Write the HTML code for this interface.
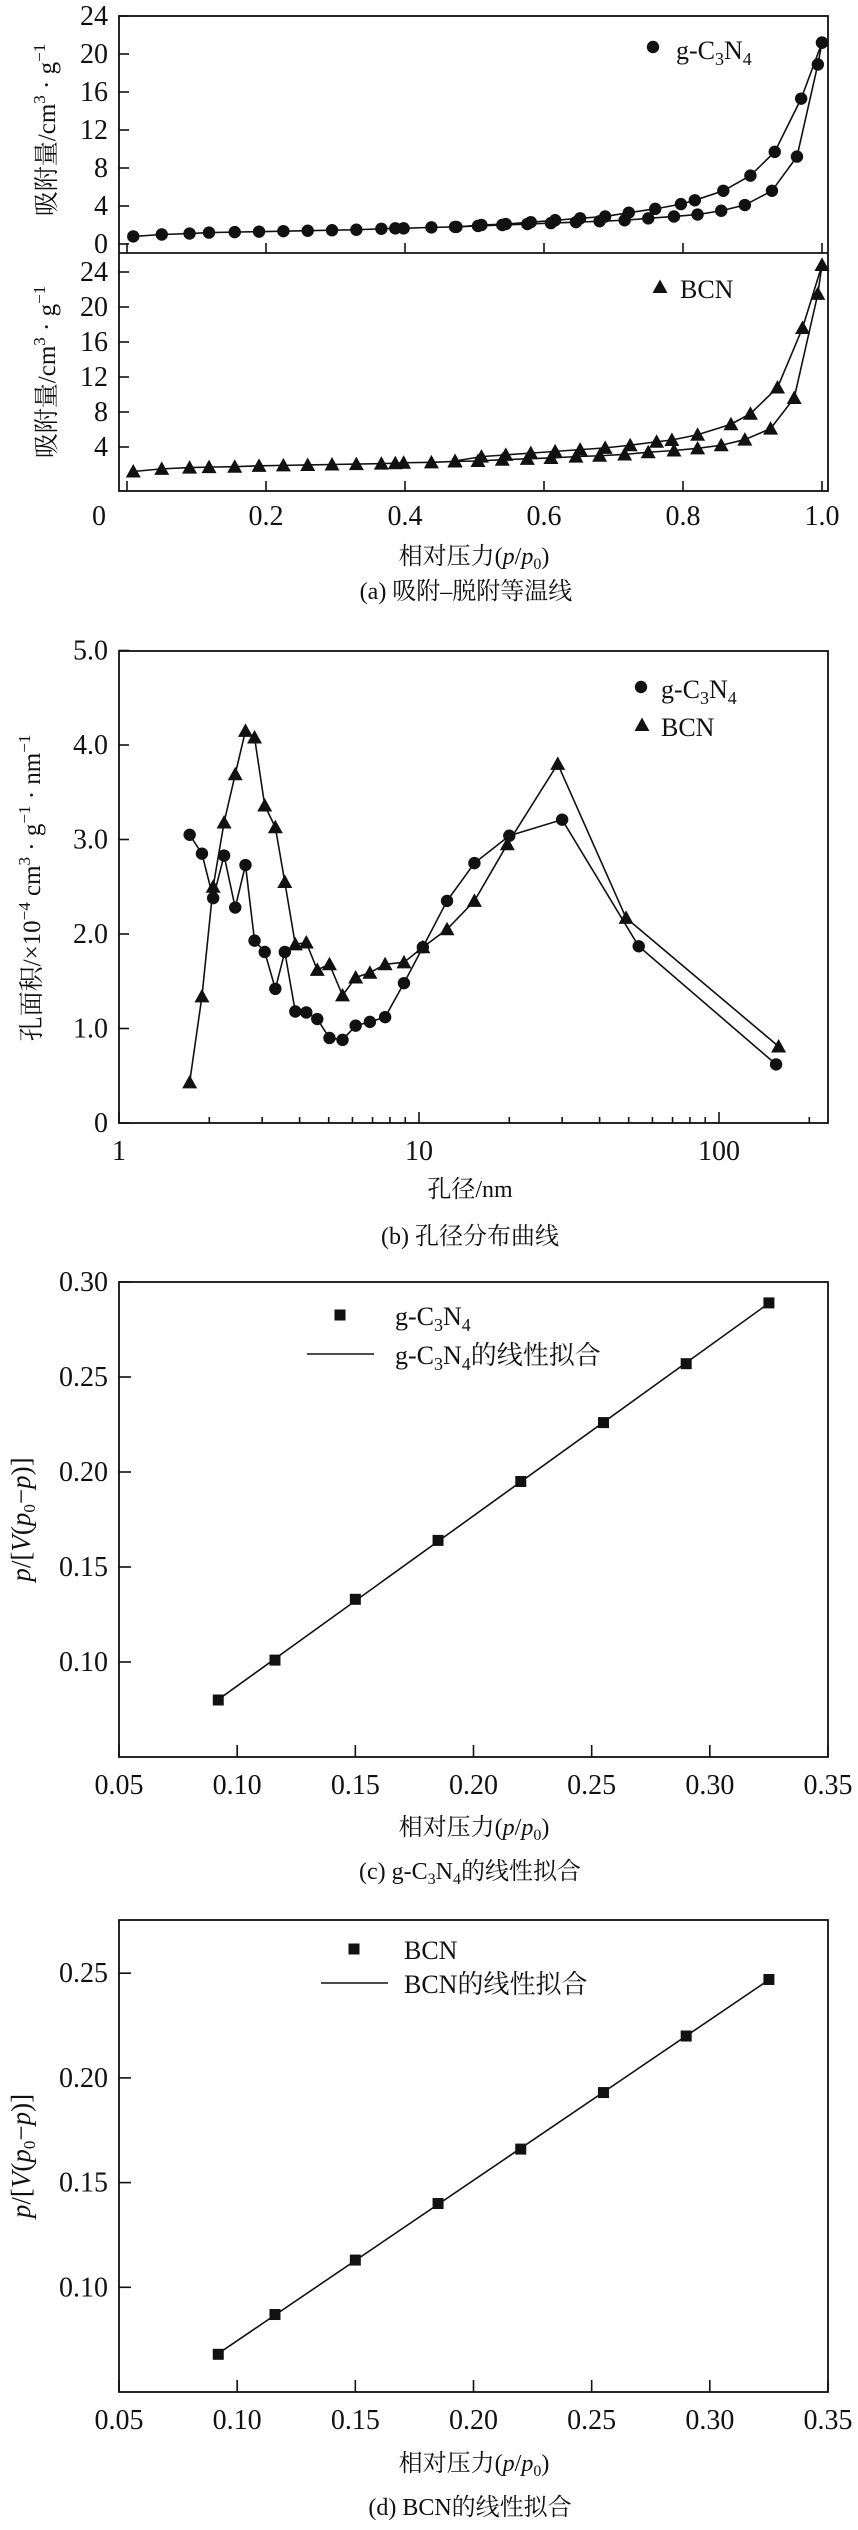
<!DOCTYPE html>
<html><head><meta charset="utf-8">
<style>
html,body{margin:0;padding:0;background:#fff;}
svg{display:block;}
text{font-family:"Liberation Serif","Noto Serif CJK SC",serif;fill:#111;}
.cjk{font-family:"Liberation Serif","Noto Serif CJK SC",serif;}
</style></head>
<body>
<svg id="fig" width="858" height="2530" viewBox="0 0 858 2530" xmlns="http://www.w3.org/2000/svg"></svg>
<script>
// ---------- Data: (a) isotherms ----------
const gAdsX=[0.009,0.05,0.09,0.118,0.155,0.19,0.225,0.26,0.295,0.33,0.366,0.386,0.398,0.438,0.472,0.505,0.54,0.576,0.61,0.646,0.68,0.716,0.75,0.787,0.821,0.855,0.889,0.928,0.964,0.994,1.0];
const gAdsY=[0.8,1.0,1.1,1.2,1.25,1.3,1.35,1.4,1.45,1.5,1.6,1.65,1.65,1.75,1.8,1.9,2.0,2.1,2.2,2.3,2.4,2.5,2.7,2.9,3.1,3.5,4.1,5.6,9.2,18.9,21.2];
const gDesX=[1.0,0.97,0.932,0.897,0.858,0.817,0.797,0.76,0.722,0.688,0.652,0.616,0.581,0.545,0.51,0.474];
const gDesY=[21.2,15.3,9.7,7.2,5.6,4.6,4.2,3.7,3.3,2.9,2.7,2.5,2.3,2.1,2.0,1.8];
const bAdsX=[0.009,0.05,0.09,0.118,0.155,0.19,0.225,0.26,0.295,0.33,0.366,0.386,0.398,0.438,0.472,0.505,0.54,0.576,0.61,0.646,0.68,0.716,0.75,0.787,0.821,0.855,0.889,0.926,0.96,0.994,1.0];
const bAdsY=[1.2,1.5,1.65,1.7,1.75,1.85,1.9,1.95,2.0,2.05,2.1,2.15,2.2,2.25,2.35,2.4,2.55,2.65,2.75,2.9,3.0,3.15,3.4,3.6,3.85,4.2,4.85,6.1,9.6,21.5,24.8];
const bDesX=[1.0,0.972,0.936,0.897,0.869,0.821,0.784,0.762,0.724,0.688,0.652,0.616,0.581,0.545,0.51,0.472];
const bDesY=[24.8,17.6,10.8,7.8,6.6,5.4,4.8,4.6,4.2,3.9,3.7,3.5,3.3,3.1,2.9,2.4];
const aXTicks=[0,0.2,0.4,0.6,0.8,1.0];
const aXLabels=["0","0.2","0.4","0.6","0.8","1.0"];
const aTopYTicks=[0,4,8,12,16,20,24];
const aBotYTicks=[4,8,12,16,20,24];
// ---------- Data: (b) pore size ----------
const pgX=[1.72,1.89,2.06,2.24,2.44,2.64,2.83,3.06,3.32,3.57,3.87,4.21,4.58,5.03,5.56,6.15,6.86,7.71,8.91,10.3,12.4,15.3,20.0,30.0,54.0,155];
const pgY=[3.05,2.85,2.38,2.83,2.28,2.73,1.93,1.81,1.42,1.81,1.18,1.17,1.10,0.90,0.88,1.03,1.07,1.12,1.48,1.86,2.35,2.75,3.04,3.21,1.87,0.62];
const pbX=[1.72,1.89,2.06,2.24,2.44,2.64,2.83,3.06,3.32,3.57,3.87,4.21,4.58,5.03,5.56,6.15,6.86,7.71,8.91,10.3,12.4,15.3,19.7,29,49,158];
const pbY=[0.43,1.34,2.5,3.18,3.69,4.15,4.08,3.36,3.13,2.55,1.89,1.91,1.62,1.68,1.35,1.54,1.59,1.68,1.70,1.86,2.05,2.35,2.95,3.8,2.17,0.81];
const bYTicks=[0,1,2,3,4,5];
const bYLabels=["0","1.0","2.0","3.0","4.0","5.0"];
const bXTicks=[1,10,100];
// ---------- Data: (c),(d) BET fits ----------
const betX=[0.092,0.116,0.150,0.185,0.220,0.255,0.290,0.325];
const cY=[0.080,0.101,0.133,0.164,0.195,0.226,0.257,0.289];
const dY=[0.068,0.087,0.113,0.140,0.166,0.193,0.220,0.247];
const cdXTicks=[0.05,0.10,0.15,0.20,0.25,0.30,0.35];
const cYTicks=[0.10,0.15,0.20,0.25,0.30];
const dYTicks=[0.10,0.15,0.20,0.25];

const NS="http://www.w3.org/2000/svg";
const svg=document.getElementById('fig');
function mk(tag,attrs,parent){const e=document.createElementNS(NS,tag);for(const k in attrs)e.setAttribute(k,attrs[k]);(parent||svg).appendChild(e);return e;}
function grp(name){const g=mk('g',{});


return g;}
function line(g,x1,y1,x2,y2,w){return mk('line',{x1,y1,x2,y2,stroke:'#111','stroke-width':w||1.6},g);}
function txt(g,x,y,s,size,anchor,extra){const t=mk('text',Object.assign({x,y,'font-size':size,'text-anchor':anchor||'middle'},extra||{}),g);t.innerHTML=s;return t;}
function circle(g,x,y){const c=mk('circle',{cx:x,cy:y,r:6.2,fill:'#111'},g);

return c;}
function tri(g,x,y){const s=7.5;const p=mk('polygon',{points:`${x},${y-s} ${x-s},${y+s*0.8} ${x+s},${y+s*0.8}`,fill:'#111'},g);

return p;}
function sq(g,x,y){const s=5.5;const r=mk('rect',{x:x-s,y:y-s,width:2*s,height:2*s,fill:'#111'},g);

return r;}
function poly(g,xs,ys,fx,fy,name){const pts=xs.map((v,i)=>fx(v)+','+fy(ys[i])).join(' ');const p=mk('polyline',{points:pts,fill:'none',stroke:'#111','stroke-width':1.6},g);

return p;}

// ===== Chart (a) =====
(function(){
const g=grp('isotherm-chart');
const L=119,R=828,T=16,M=253,B=491;
const fx=v=>127+v*695;
const fyT=v=>244-v*9.5;
const fyB=v=>482-v*8.75;
mk('rect',{x:L,y:T,width:R-L,height:B-T,fill:'none',stroke:'#111','stroke-width':1.8},g);
line(g,L,M,R,M,1.8);
aXTicks.forEach((v,i)=>{line(g,fx(v),M,fx(v),M-10);line(g,fx(v),B,fx(v),B-10);
 txt(g,i==0?99:fx(v),525,aXLabels[i],28);});
aTopYTicks.forEach(v=>{line(g,L,fyT(v),L+10,fyT(v));txt(g,108,fyT(v)+9,String(v),28,'end');});
aBotYTicks.forEach(v=>{line(g,L,fyB(v),L+10,fyB(v));txt(g,108,fyB(v)+9,String(v),28,'end');});
poly(g,gAdsX,gAdsY,fx,fyT,'g-c3n4-adsorption-line');poly(g,gDesX,gDesY,fx,fyT,'g-c3n4-desorption-line');
gAdsX.forEach((v,i)=>circle(g,fx(v),fyT(gAdsY[i])));gDesX.forEach((v,i)=>circle(g,fx(v),fyT(gDesY[i])));
poly(g,bAdsX,bAdsY,fx,fyB,'bcn-adsorption-line');poly(g,bDesX,bDesY,fx,fyB,'bcn-desorption-line');
bAdsX.forEach((v,i)=>tri(g,fx(v),fyB(bAdsY[i])));bDesX.forEach((v,i)=>tri(g,fx(v),fyB(bDesY[i])));
circle(g,653,47);txt(g,676,59,'g-C<tspan font-size="18" dy="6">3</tspan><tspan dy="-6">N</tspan><tspan font-size="18" dy="6">4</tspan>',26,'start');
tri(g,660,287);txt(g,680,298,'BCN',26,'start');
txt(g,55,130,'吸附量/cm<tspan font-size="17" dy="-10">3</tspan><tspan dy="10"> · g</tspan><tspan font-size="17" dy="-10">−1</tspan>',25,'middle',{transform:'rotate(-90 55 130)'});
txt(g,55,372,'吸附量/cm<tspan font-size="17" dy="-10">3</tspan><tspan dy="10"> · g</tspan><tspan font-size="17" dy="-10">−1</tspan>',25,'middle',{transform:'rotate(-90 55 372)'});
txt(g,474,564,'相对压力(<tspan font-style="italic">p</tspan>/<tspan font-style="italic">p</tspan><tspan font-size="16" dy="5">0</tspan><tspan dy="-5">)</tspan>',24);
txt(g,466,599,'(a) 吸附–脱附等温线',24);
})();

// ===== Chart (b) =====
(function(){
const g=grp('pore-distribution-chart');
const L=119,R=828,T=651,B=1123;
const fx=v=>119+Math.log10(v)*300;
const fy=v=>1123-v*94.5;
mk('rect',{x:L,y:T,width:R-L,height:B-T,fill:'none',stroke:'#111','stroke-width':1.8},g);
for(let d=1;d<=100;d*=10){for(let k=1;k<10;k++){const v=d*k;const x=fx(v);if(x>R-1)break;line(g,x,B,x,B-(k==1?11:6));}}
bXTicks.forEach(v=>txt(g,fx(v),1160,String(v),28));
bYTicks.forEach((v,i)=>{line(g,L,fy(v),L+10,fy(v));txt(g,108,fy(v)+9,bYLabels[i],28,'end');});
poly(g,pgX,pgY,fx,fy,'g-c3n4-pore-line');poly(g,pbX,pbY,fx,fy,'bcn-pore-line');
pgX.forEach((v,i)=>circle(g,fx(v),fy(pgY[i])));pbX.forEach((v,i)=>tri(g,fx(v),fy(pbY[i])));
circle(g,641,687);txt(g,661,698,'g-C<tspan font-size="18" dy="6">3</tspan><tspan dy="-6">N</tspan><tspan font-size="18" dy="6">4</tspan>',26,'start');
tri(g,642,725);txt(g,661,736,'BCN',26,'start');
txt(g,40,888,'孔面积/×10<tspan font-size="17" dy="-10">−4</tspan><tspan dy="10"> cm</tspan><tspan font-size="17" dy="-10">3</tspan><tspan dy="10"> · g</tspan><tspan font-size="17" dy="-10">−1</tspan><tspan dy="10"> · nm</tspan><tspan font-size="17" dy="-10">−1</tspan>',25,'middle',{transform:'rotate(-90 40 888)'});
txt(g,470,1197,'孔径/nm',24);
txt(g,470,1244,'(b) 孔径分布曲线',24);
})();

// ===== BET chart builder =====
function bet(name,T,B,ymin,ymax,yticks,ys,legTop,label,lab2,captionY,cap){
const g=grp(name);
const L=119,R=828;
const fx=v=>119+(v-0.05)/0.30*709;
const fy=v=>B-(v-ymin)/(ymax-ymin)*(B-T);
mk('rect',{x:L,y:T,width:R-L,height:B-T,fill:'none',stroke:'#111','stroke-width':1.8},g);
cdXTicks.forEach(v=>{line(g,fx(v),B,fx(v),B-12);txt(g,fx(v),B+37,v.toFixed(2),28);});
yticks.forEach(v=>{line(g,L,fy(v),L+12,fy(v));txt(g,108,fy(v)+9,v.toFixed(2),28,'end');});
// least-squares fit
const n=betX.length;let sx=0,sy=0,sxx=0,sxy=0;betX.forEach((x,i)=>{sx+=x;sy+=ys[i];sxx+=x*x;sxy+=x*ys[i];});
const m=(n*sxy-sx*sy)/(n*sxx-sx*sx),b=(sy-m*sx)/n;
const x0=betX[0],x1=betX[n-1];
const fl=line(g,fx(x0),fy(m*x0+b),fx(x1),fy(m*x1+b),1.6);


betX.forEach((v,i)=>sq(g,fx(v),fy(ys[i])));
sq(g,legTop.sx,legTop.sy);txt(g,legTop.tx,legTop.sy+10,label,26,'start');
line(g,legTop.lx1,legTop.ly,legTop.lx2,legTop.ly,1.6);txt(g,legTop.tx,legTop.ly+10,lab2,26,'start');
const cy=(T+B)/2;
txt(g,30,cy,'<tspan font-style="italic">p</tspan>/[<tspan font-style="italic">V</tspan>(<tspan font-style="italic">p</tspan><tspan font-size="17" dy="5">0</tspan><tspan dy="-5">−</tspan><tspan font-style="italic">p</tspan>)]',27,'middle',{transform:`rotate(-90 30 ${cy})`});
txt(g,474,captionY-44,'相对压力(<tspan font-style="italic">p</tspan>/<tspan font-style="italic">p</tspan><tspan font-size="16" dy="5">0</tspan><tspan dy="-5">)</tspan>',24);
txt(g,470,captionY,cap,24);
}
const gLab='g-C<tspan font-size="18" dy="6">3</tspan><tspan dy="-6">N</tspan><tspan font-size="18" dy="6">4</tspan>';
bet('bet-fit-g-c3n4-chart',1282,1757,0.05,0.30,cYTicks,cY,{sx:340,sy:1315,tx:395,lx1:307,lx2:374,ly:1354},gLab,gLab+'<tspan dy="-6">的线性拟合</tspan>',1879,'(c) g-C<tspan font-size="16" dy="5">3</tspan><tspan dy="-5">N</tspan><tspan font-size="16" dy="5">4</tspan><tspan dy="-5">的线性拟合</tspan>');
bet('bet-fit-bcn-chart',1920,2392,0.05,0.05+(2392-1920)/104.7*0.05,dYTicks,dY,{sx:354,sy:1949,tx:404,lx1:321,lx2:388,ly:1983},'BCN','BCN的线性拟合',2515,'(d) BCN的线性拟合');
</script>
</body></html>
